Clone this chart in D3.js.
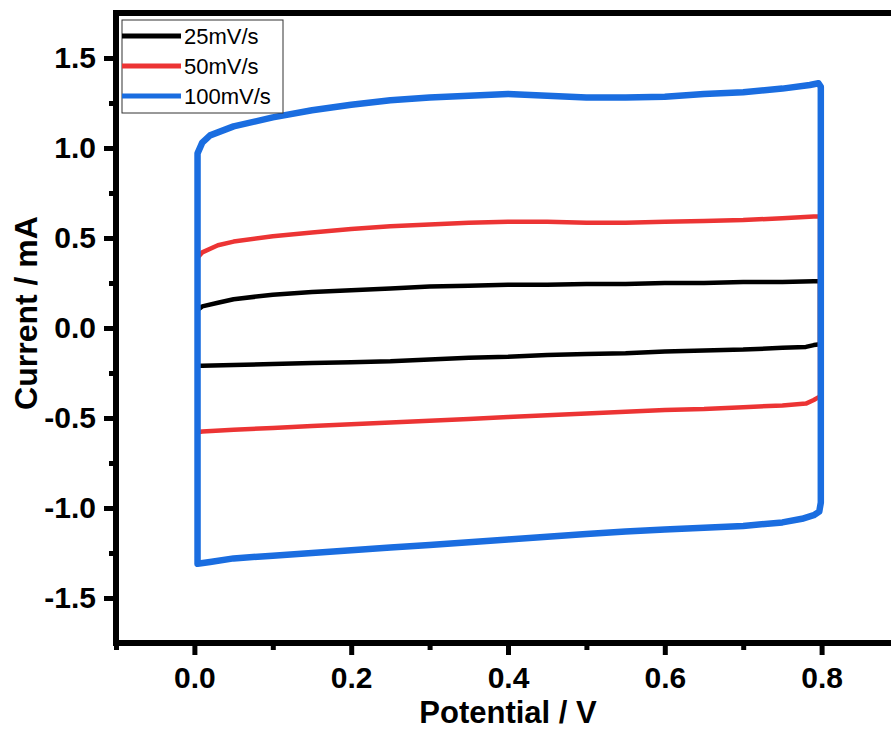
<!DOCTYPE html>
<html><head><meta charset="utf-8">
<script src="https://cdn.jsdelivr.net/npm/d3@7/dist/d3.min.js"></script>
<style>body{margin:0;background:#fff}svg{display:block;font-family:"Liberation Sans",Arial,sans-serif}</style>
</head><body><svg id="c" width="891" height="731"></svg>
<script>
// Series labels and colours
const seriesNames = ["25mV/s", "50mV/s", "100mV/s"];
const seriesColors = ["#000000", "#ec3434", "#1a6de0"];

// 25 mV/s loop (potential V, current mA)
const p25 = [0.004,0.004,0.01,0.03,0.05,0.1,0.15,0.2,0.25,0.3,0.35,0.4,0.45,0.5,0.55,0.6,0.65,0.7,0.75,0.79,0.798,0.798,0.79,0.78,0.75,0.7,0.65,0.6,0.55,0.5,0.45,0.4,0.35,0.3,0.25,0.2,0.15,0.1,0.05,0.01,0.004];
const c25 = [-0.21,0.10,0.12,0.14,0.16,0.185,0.20,0.21,0.22,0.23,0.235,0.24,0.24,0.245,0.245,0.25,0.25,0.255,0.255,0.26,0.26,-0.09,-0.095,-0.105,-0.11,-0.12,-0.125,-0.13,-0.14,-0.145,-0.15,-0.16,-0.165,-0.175,-0.185,-0.19,-0.195,-0.20,-0.205,-0.21,-0.21];

// 50 mV/s loop
const p50 = [0.004,0.004,0.01,0.03,0.05,0.1,0.15,0.2,0.25,0.3,0.35,0.4,0.45,0.5,0.55,0.6,0.65,0.7,0.75,0.79,0.798,0.798,0.79,0.78,0.75,0.7,0.65,0.6,0.55,0.5,0.45,0.4,0.35,0.3,0.25,0.2,0.15,0.1,0.05,0.01,0.004];
const c50 = [-0.58,0.39,0.42,0.46,0.48,0.51,0.53,0.55,0.565,0.575,0.585,0.59,0.59,0.585,0.585,0.59,0.595,0.60,0.61,0.62,0.62,-0.38,-0.40,-0.42,-0.43,-0.44,-0.45,-0.455,-0.465,-0.475,-0.485,-0.495,-0.505,-0.515,-0.525,-0.535,-0.545,-0.555,-0.565,-0.575,-0.58];

// 100 mV/s loop
const p100 = [0.004,0.004,0.01,0.02,0.05,0.1,0.15,0.2,0.25,0.3,0.35,0.4,0.45,0.5,0.55,0.6,0.65,0.7,0.75,0.785,0.796,0.799,0.799,0.797,0.79,0.775,0.75,0.7,0.65,0.6,0.55,0.5,0.45,0.4,0.35,0.3,0.25,0.2,0.15,0.1,0.05,0.02,0.004];
const c100 = [-1.31,0.97,1.03,1.07,1.12,1.17,1.21,1.24,1.265,1.28,1.29,1.30,1.29,1.28,1.28,1.285,1.30,1.31,1.33,1.35,1.36,1.34,-0.97,-1.02,-1.04,-1.06,-1.08,-1.10,-1.11,-1.12,-1.13,-1.145,-1.16,-1.175,-1.19,-1.205,-1.22,-1.235,-1.25,-1.265,-1.28,-1.30,-1.31];

const xTicks = [0.0, 0.2, 0.4, 0.6, 0.8];
const yTicks = [-1.5, -1.0, -0.5, 0.0, 0.5, 1.0, 1.5];
const xLabel = "Potential / V";
const yLabel = "Current / mA";

const svg = d3.select("#c");
const L = 116, R = 900, T = 13, B = 643;
const x = d3.scaleLinear().domain([-0.1, 0.9]).range([L, R]);
const y = d3.scaleLinear().domain([-1.75, 1.75]).range([B, T]);

const loops = [
  d3.zip(p25, c25), d3.zip(p50, c50), d3.zip(p100, c100)
];
const widths = [4.5, 4.5, 6.5];
const line = d3.line().x(d => x(d[0])).y(d => y(d[1]));
loops.forEach((pts, i) => {
  svg.append("path").attr("d", line(pts)).attr("fill", "none")
    .attr("stroke", seriesColors[i]).attr("stroke-width", widths[i])
    .attr("stroke-linejoin", "round").attr("stroke-linecap", "round");
});

// Axes
const fmt = d => d3.format(".1f")(d).replace("\u2212", "-");
const xAxis = d3.axisBottom(x).tickValues(xTicks).tickFormat(fmt).tickSize(12).tickPadding(12);
const xMinor = d3.axisBottom(x).tickValues([-0.1,0.1,0.3,0.5,0.7,0.9]).tickFormat("").tickSize(7);
const yAxis = d3.axisLeft(y).tickValues(yTicks).tickFormat(fmt).tickSize(12).tickPadding(8);
const yMinor = d3.axisLeft(y).tickValues([-1.25,-0.75,-0.25,0.25,0.75,1.25]).tickFormat("").tickSize(7);

function style(g) {
  g.select(".domain").remove();
  g.selectAll(".tick line").attr("stroke", "#000").attr("stroke-width", 5);
  g.selectAll(".tick text").attr("fill", "#000").attr("font-size", 30).attr("font-weight", "bold")
    .attr("font-family", "'Liberation Sans', Arial, sans-serif");
}
svg.append("g").attr("transform", `translate(0,${B})`).call(xMinor).call(style);
svg.append("g").attr("transform", `translate(0,${B})`).call(xAxis).call(style);
svg.append("g").attr("transform", `translate(${L},0)`).call(yMinor).call(style);
svg.append("g").attr("transform", `translate(${L},0)`).call(yAxis).call(style);

svg.append("rect").attr("x", L).attr("y", T).attr("width", R - L).attr("height", B - T)
  .attr("fill", "none").attr("stroke", "#000").attr("stroke-width", 6);

svg.append("text").attr("x", (L + R) / 2).attr("y", 723).attr("text-anchor", "middle")
  .attr("font-size", 31).attr("font-weight", "bold").text(xLabel);
svg.append("text").attr("transform", "translate(37,313) rotate(-90)").attr("text-anchor", "middle")
  .attr("font-size", 32).attr("font-weight", "bold").text(yLabel);

// Legend
const lg = svg.append("g");
lg.append("rect").attr("x", 122).attr("y", 20).attr("width", 161).attr("height", 93)
  .attr("fill", "#fff").attr("stroke", "#333").attr("stroke-width", 1);
seriesNames.forEach((n, i) => {
  const cy = 36 + i * 30;
  lg.append("line").attr("x1", 122).attr("x2", 181).attr("y1", cy).attr("y2", cy)
    .attr("stroke", seriesColors[i]).attr("stroke-width", 5);
  lg.append("text").attr("x", 184).attr("y", cy + 8).attr("font-size", 22).text(n);
});
</script></body></html>
